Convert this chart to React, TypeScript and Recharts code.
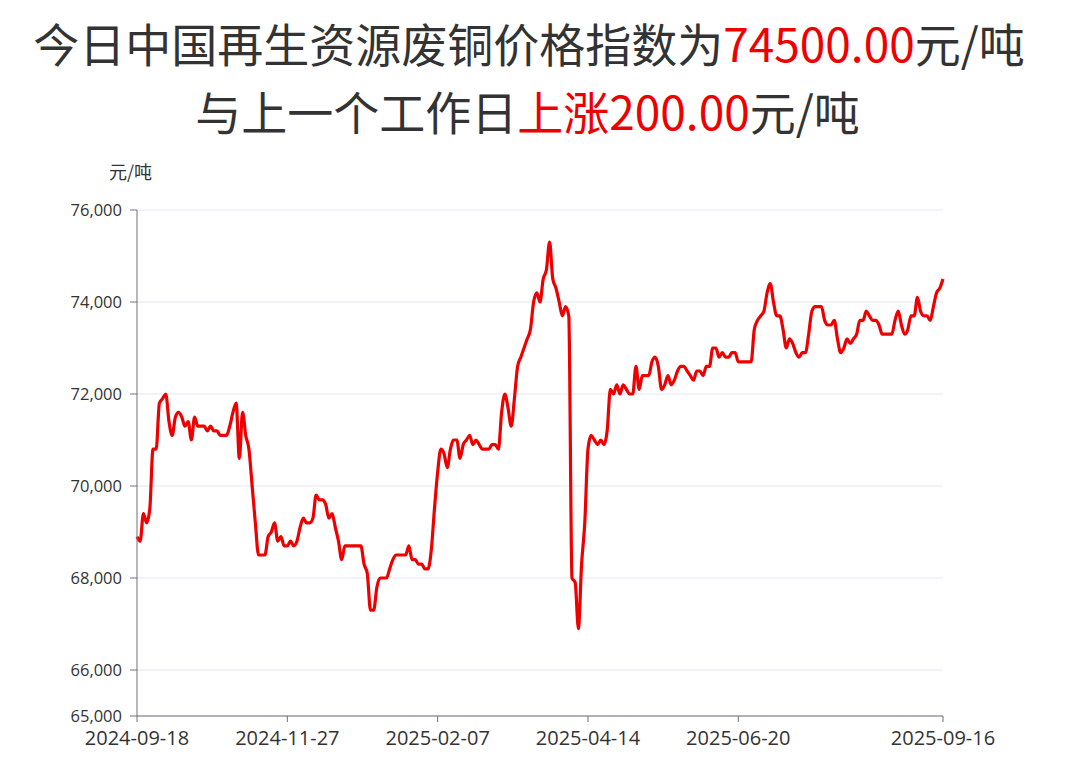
import React from 'react';
import { LineChart, Line, XAxis, YAxis, CartesianGrid } from 'recharts';

// 废铜价格指数, one value per working day (2024-09-18 .. 2025-09-16)
const prices = [
  68900, 68800, 69400, 69200, 69500, 70800, 70800, 71800, 71900, 72000,
  71400, 71100, 71500, 71600, 71500, 71300, 71400, 71000, 71500, 71300,
  71300, 71300, 71200, 71300, 71200, 71200, 71100, 71100, 71100, 71300,
  71600, 71800, 70600, 71600, 71100, 70800, 70000, 69200, 68500, 68500,
  68500, 68900, 69000, 69200, 68800, 68900, 68700, 68700, 68800, 68700,
  68800, 69100, 69300, 69200, 69200, 69300, 69800, 69700, 69700, 69600,
  69300, 69400, 69100, 68800, 68400, 68700, 68700, 68700, 68700, 68700,
  68700, 68300, 68100, 67300, 67300, 67800, 68000, 68000, 68000, 68200,
  68400, 68500, 68500, 68500, 68500, 68700, 68400, 68400, 68300, 68300,
  68200, 68200, 68600, 69500, 70300, 70800, 70700, 70400, 70800, 71000,
  71000, 70600, 70900, 71000, 71100, 70900, 71000, 70900, 70800, 70800,
  70800, 70900, 70900, 70800, 71600, 72000, 71700, 71300, 71900, 72600,
  72800, 73000, 73200, 73400, 74000, 74200, 74000, 74500, 74700, 75300,
  74500, 74300, 74000, 73700, 73900, 73700, 68000, 67900, 66900, 68300,
  69200, 70800, 71100, 71000, 70900, 71000, 70900, 71200, 72100, 72000,
  72200, 72000, 72200, 72100, 72000, 72000, 72600, 72100, 72400, 72400,
  72400, 72700, 72800, 72600, 72100, 72200, 72400, 72200, 72300, 72500,
  72600, 72600, 72500, 72400, 72300, 72500, 72500, 72400, 72600, 72600,
  73000, 73000, 72800, 72900, 72800, 72800, 72900, 72900, 72700, 72700,
  72700, 72700, 72700, 73400, 73600, 73700, 73800, 74200, 74400, 74000,
  73700, 73700, 73400, 73000, 73200, 73100, 72900, 72800, 72900, 72900,
  73300, 73800, 73900, 73900, 73900, 73600, 73500, 73500, 73600, 73200,
  72900, 73000, 73200, 73100, 73200, 73300, 73600, 73600, 73800, 73700,
  73600, 73600, 73500, 73300, 73300, 73300, 73300, 73600, 73800, 73500,
  73300, 73400, 73700, 73700, 74100, 73800, 73700, 73700, 73600, 73900,
  74200, 74300, 74500,
];

const tickIndex = [0, 47, 94, 141, 188, 252];
const tickLabels = ['2024-09-18', '2024-11-27', '2025-02-07', '2025-04-14', '2025-06-20', '2025-09-16'];
const yTicks = [65000, 66000, 68000, 70000, 72000, 74000, 76000];

const data = prices.map((v, i) => ({ i, v }));

const AXIS = '#6e7079';
const RED = '#ee0000';
const FONT = '"Open Sans", "Noto Sans CJK SC", sans-serif';
const CJK = '"Noto Sans CJK SC", sans-serif';

export default function App() {
  const labelOf = (i: number) => tickLabels[tickIndex.indexOf(i)] ?? '';
  return (
    <div style={{ position: 'relative', width: 1080, height: 780, background: '#fff', fontFamily: FONT }}>
      <style>{`body{margin:0}`}</style>
      <div style={{ position: 'absolute', top: 10, left: 0, width: 1058, textAlign: 'center',
        fontSize: 46, color: '#333', fontFamily: CJK, lineHeight: '64px' }}>
        今日中国再生资源废铜价格指数为<span style={{ color: RED }}>74500.00</span>元/吨
      </div>
      <div style={{ position: 'absolute', top: 78, left: 0, width: 1055, textAlign: 'center',
        fontSize: 46, color: '#333', fontFamily: CJK, lineHeight: '64px' }}>
        与上一个工作日<span style={{ color: RED }}>上涨200.00</span>元/吨
      </div>
      <div style={{ position: 'absolute', top: 158, left: 109, fontSize: 18, color: '#333',
        fontFamily: CJK }}>元/吨</div>
      <div style={{ position: 'absolute', top: 0, left: 0 }}>
        <LineChart width={1080} height={780} data={data} margin={{ top: 210, right: 137, bottom: 20, left: 0 }}>
          <CartesianGrid horizontal vertical={false} stroke="#e0e6f1" />
          <XAxis dataKey="i" type="number" domain={[0, 252]} ticks={tickIndex} tickFormatter={labelOf}
            height={44} stroke={AXIS} tickSize={6} tickMargin={9}
            tick={{ fill: '#333', fontSize: 20, fontFamily: FONT }} interval={0} />
          <YAxis type="number" domain={[65000, 76000]} ticks={yTicks} width={137} stroke={AXIS}
            tickSize={7} tickMargin={8} allowDataOverflow
            tickFormatter={(v: number) => v.toLocaleString('en-US')}
            tick={{ fill: '#333', fontSize: 16.5, fontFamily: FONT }} interval={0} />
          <Line type="monotone" dataKey="v" stroke={RED} strokeWidth={3.2} dot={false} isAnimationActive={false} />
        </LineChart>
      </div>
    </div>
  );
}
